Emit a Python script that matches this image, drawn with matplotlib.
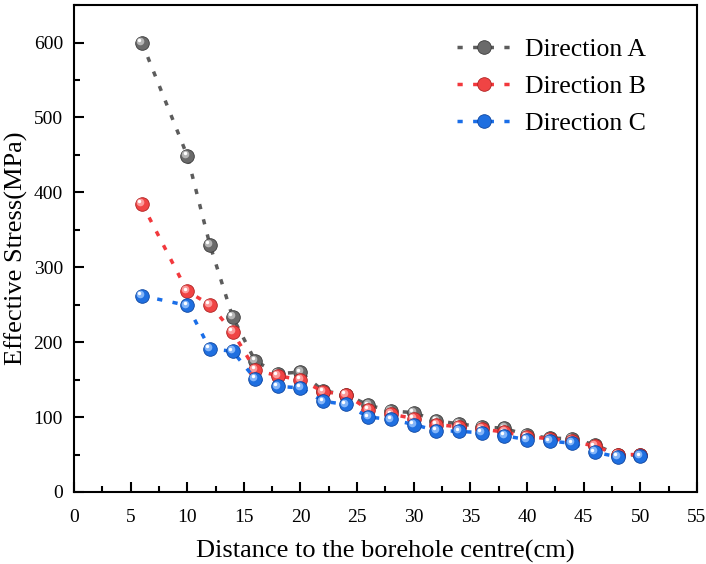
import matplotlib
matplotlib.use('Agg')
import matplotlib.pyplot as plt
from matplotlib.transforms import offset_copy

distance = [6, 10, 12, 14, 16, 18, 20, 22, 24, 26, 28, 30, 32, 34, 36, 38, 40, 42, 44, 46, 48, 50]

stress_a = [600, 449, 330, 234, 175, 158, 160, 135, 130, 116, 108, 106, 95, 91, 87, 85, 76, 72, 71, 63, 50, 49]
stress_b = [385, 268, 250, 214, 163, 155, 150, 134, 130, 110, 104, 98, 90, 87, 84, 80, 74, 71, 68, 61, 50, 50]
stress_c = [262, 249, 191, 188, 151, 141, 139, 121, 117, 100, 97, 90, 82, 81, 79, 75, 70, 68, 65, 53, 47, 48]

series = [
    ('Direction A', stress_a, '#5c5c5c', '#6a6a6a', '#c8c8c8', '#3a3a3a'),
    ('Direction B', stress_b, '#f2383c', '#f04444', '#ffb0b0', '#b02020'),
    ('Direction C', stress_c, '#1a6ee8', '#1f6fe0', '#9cc6ff', '#0c45a0'),
]

plt.rcParams['font.family'] = ['Liberation Serif', 'DejaVu Serif']

fig = plt.figure(figsize=(7.06, 5.64), dpi=100)
ax = fig.add_axes([0.1048, 0.1277, 0.8822, 0.8633])

# small offset layers give the markers a shaded, sphere-like look
hi_tr = offset_copy(ax.transData, fig=fig, x=-1.3, y=1.3, units='points')
hi_tr2 = offset_copy(ax.transData, fig=fig, x=-1.8, y=1.8, units='points')

for name, vals, lcol, mcol, hcol, ecol in series:
    ax.plot(distance, vals, color=lcol, lw=2.5, linestyle=(0, (1.5, 3.0)),
            marker='o', ms=9.8, mfc=mcol, mec=ecol, mew=0.6, label=name)
    ax.plot(distance, vals, ls='none', marker='o', ms=5.5, mfc=hcol, mec='none',
            alpha=0.8, transform=hi_tr)
    ax.plot(distance, vals, ls='none', marker='o', ms=2.5, mfc='white', mec='none',
            transform=hi_tr2)

ax.set_xlim(0, 55)
ax.set_ylim(0, 650)
ax.set_xticks(range(0, 56, 5))
ax.set_xticks([x + 2.5 for x in range(0, 55, 5)], minor=True)
ax.set_yticks(range(0, 601, 100))
ax.set_yticks(range(50, 651, 100), minor=True)

ax.tick_params(which='both', direction='in', top=False, right=False, width=1.5, labelsize=14)
ax.tick_params(which='major', length=7)
ax.tick_params(which='minor', length=4)
ax.tick_params(axis='x', which='major', pad=12)
ax.tick_params(axis='y', which='major', pad=8)
for sp in ax.spines.values():
    sp.set_linewidth(1.5)

ax.set_xlabel('Distance to the borehole centre(cm)', fontsize=19, labelpad=10)
ax.set_ylabel('Effective Stress(MPa)', fontsize=19, labelpad=4)

ax.legend(loc='upper right', bbox_to_anchor=(0.956, 0.98), frameon=False, fontsize=18.5,
          handlelength=2.1, labelspacing=0.55, handletextpad=0.55)

fig.savefig('out.png', dpi=100)
